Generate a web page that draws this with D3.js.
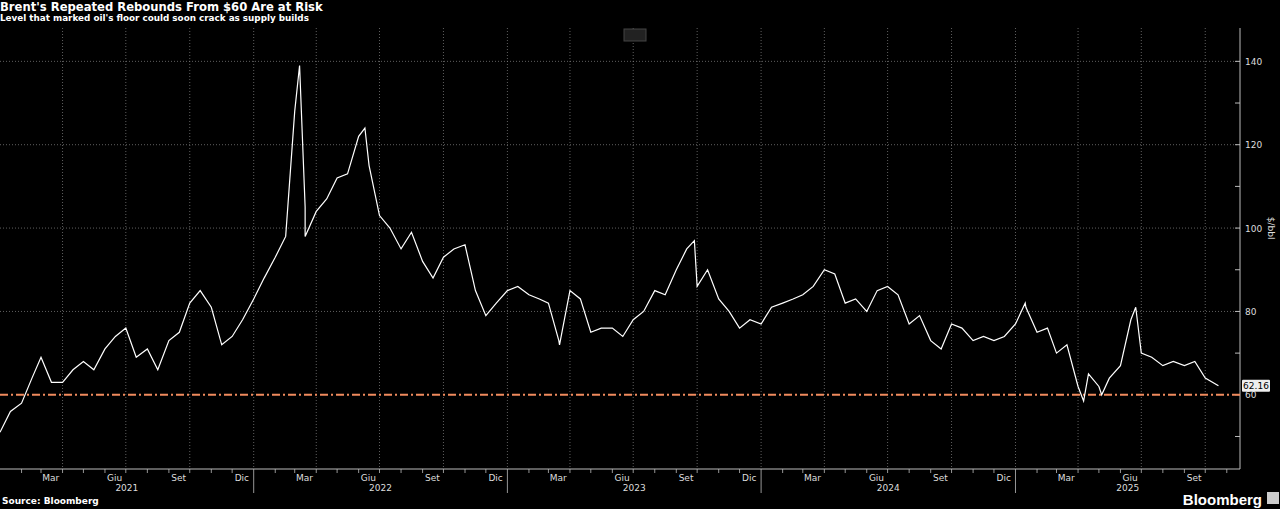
<!DOCTYPE html><html><head><meta charset="utf-8">
<script src="https://cdn.jsdelivr.net/npm/d3@7"></script>
<style>body{margin:0;background:#000;}svg{display:block;font-family:"DejaVu Sans",sans-serif;}</style></head><body>
<svg id="c" width="1280" height="509"></svg>
<script>
const title="Brent's Repeated Rebounds From $60 Are at Risk";
const subtitle="Level that marked oil's floor could soon crack as supply builds";
const source="Source: Bloomberg";
const startYear=2021;
// semi-monthly values (1st, 16th of each month) from Jan 2021
const prices=[
51,56,58,64,69,63,63,66,68,66,71,74,76,69,71,66,73,75,82,85,81,72,74,78,
83,88,93,98,128,105,104,107,112,113,122,115,103,100,95,99,92,88,93,95,96,85,79,82,
85,86,84,83,82,73,85,83,75,76,76,74,78,80,85,84,90,95,86,90,83,80,76,78,
77,81,82,83,84,86,90,89,82,83,80,85,86,84,77,79,73,71,77,76,73,74,73,74,
77,81,75,76,70,72,62,65,62,64,67,78,70,69,67,68,67,68,64,62.16];
// notable extremes [date, value]
const extremes=[["2022-03-08",139],["2022-03-16",98],["2022-06-10",124],["2023-03-17",72],["2023-09-27",97],["2025-04-09",58.5],["2025-05-05",60],["2025-06-23",81],["2025-01-15",82]];
const yTicks=[60,80,100,120,140];
const monthLabels={2:"Mar",5:"Giu",8:"Set",11:"Dic"};
const lastLabel="62.16", floorValue=60, unit="$/bbl";

const svg=d3.select("#c");
const W=1240,T=28,B=469;
const x=d3.scaleTime().domain([new Date(2021,0,1),new Date(2025,10,20)]).range([0,W]);
const y=d3.scaleLinear().domain([42.2,148]).range([B,T]);
let pts=prices.map((v,i)=>({d:new Date(startYear,Math.floor(i/2),i%2?16:1),v}));
extremes.forEach(e=>pts.push({d:new Date(e[0]),v:e[1]}));
pts.sort((a,b)=>a.d-b.d);
pts[pts.length-1].d=new Date(2025,9,20);

const qs=d3.timeMonth.every(3).range(new Date(2021,3,1),new Date(2025,10,1));
svg.selectAll(".vg").data(qs).join("line").attr("x1",d=>x(d)).attr("x2",d=>x(d)).attr("y1",T).attr("y2",B)
 .attr("stroke","#888").attr("stroke-dasharray","1,2").attr("stroke-width",0.7);
svg.selectAll(".hg").data([80,100,120,140]).join("line").attr("x1",0).attr("x2",W).attr("y1",d=>y(d)).attr("y2",d=>y(d))
 .attr("stroke","#888").attr("stroke-dasharray","1,2").attr("stroke-width",0.7);

svg.append("line").attr("x1",W).attr("x2",W).attr("y1",T).attr("y2",B).attr("stroke","#bbb");
svg.append("line").attr("x1",0).attr("x2",W).attr("y1",B).attr("y2",B).attr("stroke","#bbb");
svg.selectAll(".yt").data(d3.range(50,150,10)).join("line").attr("x1",W-5).attr("x2",W).attr("y1",d=>y(d)).attr("y2",d=>y(d)).attr("stroke","#bbb");
svg.selectAll(".yl").data(yTicks).join("text").attr("x",W+5).attr("y",d=>y(d)+3.5).text(d=>d).attr("fill","#ddd").attr("font-size",9);
svg.append("text").attr("transform",`translate(${W+28},${y(100)}) rotate(90)`).attr("text-anchor","middle").attr("fill","#ddd").attr("font-size",9).text(unit);

const months=d3.timeMonth.range(new Date(2021,1,1),new Date(2025,10,15));
svg.selectAll(".xt").data(months).join("line").attr("x1",d=>x(d)).attr("x2",d=>x(d)).attr("y1",B).attr("y2",d=>d.getMonth()==0?B+24:B+4).attr("stroke","#bbb").attr("stroke-width",0.8);
svg.selectAll(".xl").data(months.filter(d=>monthLabels[d.getMonth()])).join("text")
 .attr("x",d=>x(new Date(d.getFullYear(),d.getMonth(),15))).attr("y",B+12).attr("text-anchor","middle").attr("fill","#ddd").attr("font-size",9).text(d=>monthLabels[d.getMonth()]);
svg.selectAll(".yr").data(d3.range(2021,2026)).join("text")
 .attr("x",d=>(x(new Date(d,0,1))+Math.min(W,x(new Date(d+1,0,1))))/2).attr("y",B+22).attr("text-anchor","middle").attr("fill","#ddd").attr("font-size",9).text(d=>d);

svg.append("line").attr("x1",0).attr("x2",W).attr("y1",y(floorValue)).attr("y2",y(floorValue)).attr("stroke","#f08a5d").attr("stroke-width",2).attr("stroke-dasharray","8,3,2,3");

svg.append("path").datum(pts).attr("d",d3.line().x(d=>x(d.d)).y(d=>y(d.v))).attr("fill","none").attr("stroke","#fff").attr("stroke-width",1.2);

const lv=prices[prices.length-1];
svg.append("rect").attr("x",W+2).attr("y",y(lv)-6).attr("width",28).attr("height",12).attr("fill","#eee").attr("rx",1);
svg.append("text").attr("x",W+16).attr("y",y(lv)+3.5).attr("text-anchor","middle").attr("font-size",9).attr("fill","#000").text(lastLabel);

svg.append("text").attr("x",0).attr("y",11).attr("fill","#fff").attr("font-size",11.6).attr("font-weight","bold").text(title);
svg.append("text").attr("x",0).attr("y",21).attr("fill","#fff").attr("font-size",8.8).attr("font-weight","bold").text(subtitle);
svg.append("text").attr("x",2).attr("y",504).attr("fill","#fff").attr("font-size",9).attr("font-weight","bold").text(source);
svg.append("text").attr("x",1262).attr("y",505).attr("text-anchor","end").attr("fill","#fff").attr("font-size",15).attr("font-weight","bold").attr("font-family","Liberation Sans, Arial").text("Bloomberg");
svg.append("rect").attr("x",1267).attr("y",492).attr("width",12).attr("height",12).attr("fill","#ccc");
svg.append("rect").attr("x",624).attr("y",29).attr("width",22).attr("height",12).attr("fill","#222").attr("stroke","#444");
</script></body></html>
